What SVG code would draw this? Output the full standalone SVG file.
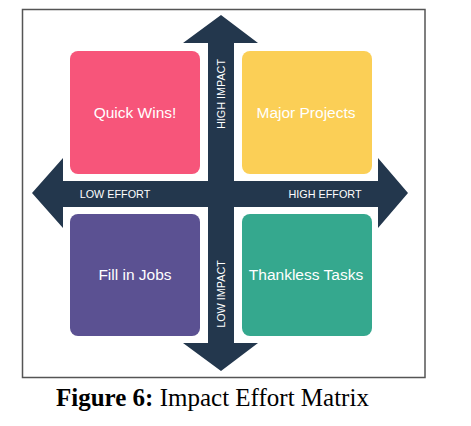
<svg xmlns="http://www.w3.org/2000/svg" width="471" height="426" viewBox="0 0 471 426">
<style>
.box{rx:8;ry:8}
.lbl{font-family:"Liberation Sans",Arial,sans-serif;font-size:15.5px;fill:#fff;text-anchor:middle}
.ax{font-family:"Liberation Sans",Arial,sans-serif;font-size:10.8px;fill:#fff;text-anchor:middle}
.arrow{fill:#23374D}
</style>
<rect width="471" height="426" fill="#fff"/>
<rect x="22.5" y="9.5" width="402.5" height="368" fill="#fff" stroke="#555" stroke-width="1.5"/>
<g id="connectors">
<polygon class="arrow" points="208,43 183,43 221,15 258,43 234,43 234,343 258,343 221,371 183,343 208,343"/>
<polygon class="arrow" points="63,181 63,158 32,193 63,228 63,207 378,207 378,228 408,193 378,158 378,181"/>
</g>
<g id="quick-wins"><rect class="box" x="70" y="51" width="130" height="123" fill="#F7557A"/><text class="lbl" x="135" y="118">Quick Wins!</text></g>
<g id="major-projects"><rect class="box" x="242" y="51" width="130" height="123" fill="#FBCF56"/><text class="lbl" x="306" y="118">Major Projects</text></g>
<g id="fill-in-jobs"><rect class="box" x="70" y="214" width="130" height="122" fill="#5B5192"/><text class="lbl" x="135" y="280">Fill in Jobs</text></g>
<g id="thankless-tasks"><rect class="box" x="242" y="214" width="130" height="122" fill="#35A88E"/><text class="lbl" x="306" y="280">Thankless Tasks</text></g>
<g id="axis-labels">
<text class="ax" transform="translate(225,94) rotate(-90)">HIGH IMPACT</text>
<text class="ax" transform="translate(225,294) rotate(-90)">LOW IMPACT</text>
<text class="ax" x="115" y="198">LOW EFFORT</text>
<text class="ax" x="325" y="198">HIGH EFFORT</text>
</g>
<text x="56" y="406" font-family="Liberation Serif,'Times New Roman',serif" font-size="25" fill="#000"><tspan font-weight="bold">Figure 6:</tspan> Impact Effort Matrix</text>
</svg>
